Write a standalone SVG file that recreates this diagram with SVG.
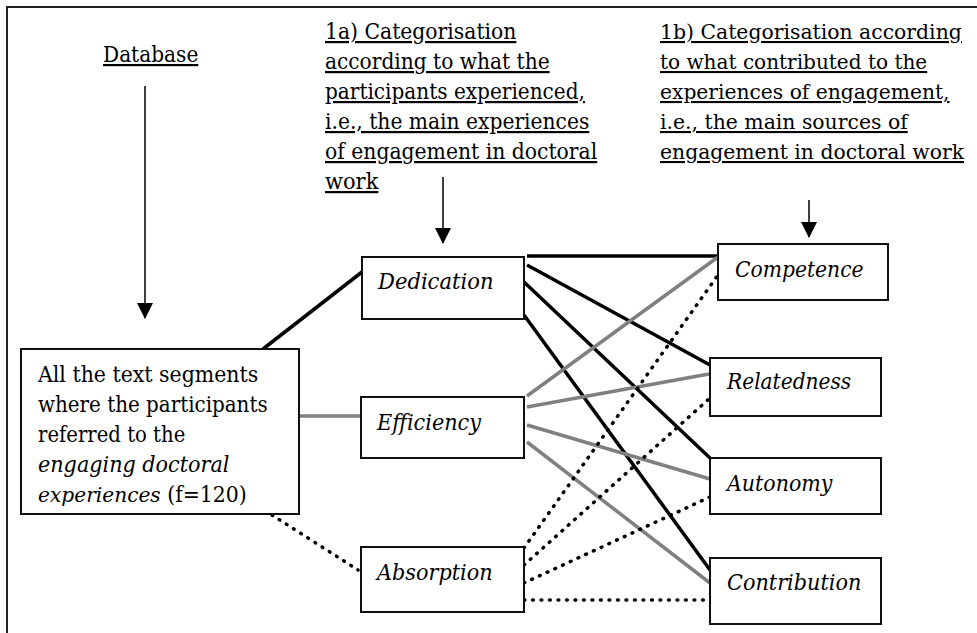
<svg xmlns="http://www.w3.org/2000/svg" width="977" height="633" viewBox="0 0 977 633">
<defs>
<marker id="ah" markerWidth="16" markerHeight="17" refX="15" refY="8" orient="auto" markerUnits="userSpaceOnUse">
<path d="M0,0 L16,8 L0,16 Z" fill="#000"/>
</marker>
<style>
text{font-family:'DejaVu Serif','Liberation Serif',serif;font-size:22px;fill:#000}
.s{font-size:21px}
.u{text-decoration:underline}
.i{font-style:italic}
.box{fill:#fff;stroke:#111;stroke-width:2}
.blk{stroke:#000;stroke-width:3.5;fill:none}
.gry{stroke:#808080;stroke-width:3.5;fill:none}
.dot{stroke:#000;stroke-width:3.5;stroke-linecap:round;stroke-dasharray:0.8 7.7;fill:none}
.arr{stroke:#000;stroke-width:1.5;fill:none}
</style>
</defs>
<rect width="977" height="633" fill="#fff"/>
<path d="M7,633 V7 H977" fill="none" stroke="#222" stroke-width="2"/>
<g id="labels">
<text class="u" x="103" y="62" textLength="95.3" lengthAdjust="spacingAndGlyphs">Database</text>
<text class="u" x="325" y="39" textLength="191.4" lengthAdjust="spacingAndGlyphs">1a) Categorisation</text>
<text class="u" x="325" y="69" textLength="224.6" lengthAdjust="spacingAndGlyphs">according to what the</text>
<text class="u" x="325" y="99" textLength="259.9" lengthAdjust="spacingAndGlyphs">participants experienced,</text>
<text class="u" x="325" y="129" textLength="264.3" lengthAdjust="spacingAndGlyphs">i.e., the main experiences</text>
<text class="u" x="325" y="159" textLength="272.2" lengthAdjust="spacingAndGlyphs">of engagement in doctoral</text>
<text class="u" x="325" y="189" textLength="53.4" lengthAdjust="spacingAndGlyphs">work</text>
<text class="u s" x="660" y="39" textLength="301.8" lengthAdjust="spacingAndGlyphs">1b) Categorisation according</text>
<text class="u s" x="660" y="69" textLength="267.2" lengthAdjust="spacingAndGlyphs">to what contributed to the</text>
<text class="u s" x="660" y="99" textLength="289.5" lengthAdjust="spacingAndGlyphs">experiences of engagement,</text>
<text class="u s" x="660" y="129" textLength="247.7" lengthAdjust="spacingAndGlyphs">i.e., the main sources of</text>
<text class="u s" x="660" y="159" textLength="304" lengthAdjust="spacingAndGlyphs">engagement in doctoral work</text>
</g>
<g id="arrows">
<line class="arr" x1="145" y1="86" x2="145" y2="318" marker-end="url(#ah)"/>
<line class="arr" x1="443" y1="177" x2="443" y2="243" marker-end="url(#ah)"/>
<line class="arr" x1="809" y1="200" x2="809" y2="237" marker-end="url(#ah)"/>
</g>
<g id="connectors">
<line class="blk" x1="263" y1="349" x2="362" y2="272"/>
<line class="gry" x1="299" y1="416" x2="361" y2="416"/>
<line class="dot" x1="272" y1="515" x2="358" y2="570"/>
<line class="blk" x1="527" y1="256" x2="718" y2="256"/>
<line class="blk" x1="527" y1="265" x2="710" y2="365"/>
<line class="blk" x1="524" y1="282" x2="710" y2="458"/>
<line class="blk" x1="524" y1="315" x2="710" y2="570"/>
<line class="gry" x1="527" y1="396" x2="718" y2="257"/>
<line class="gry" x1="527" y1="407" x2="709" y2="374"/>
<line class="gry" x1="527" y1="425" x2="710" y2="479"/>
<line class="gry" x1="527" y1="442" x2="710" y2="583"/>
<line class="dot" x1="524" y1="548" x2="718" y2="275"/>
<line class="dot" x1="524" y1="565" x2="710" y2="398"/>
<line class="dot" x1="524" y1="583" x2="710" y2="497"/>
<line class="dot" x1="524" y1="600" x2="710" y2="600"/>
</g>
<g id="source">
<rect class="box" x="21" y="349" width="278" height="165"/>
<text x="38" y="382" textLength="220.3" lengthAdjust="spacingAndGlyphs">All the text segments</text>
<text x="38" y="412" textLength="229.6" lengthAdjust="spacingAndGlyphs">where the participants</text>
<text x="38" y="442" textLength="147.3" lengthAdjust="spacingAndGlyphs">referred to the</text>
<text x="38" y="472" class="i" textLength="191.4" lengthAdjust="spacingAndGlyphs">engaging doctoral</text>
<text x="38" y="502" class="i" font-size="20" style="font-size:20px" textLength="122.7" lengthAdjust="spacingAndGlyphs">experiences</text>
<text x="167.2" y="502" textLength="79.6" lengthAdjust="spacingAndGlyphs">(f=120)</text>
</g>
<g id="dedication">
<rect class="box" x="362" y="257" width="162" height="62"/>
<text class="i" x="378" y="289" textLength="115.5" lengthAdjust="spacingAndGlyphs">Dedication</text>
</g>
<g id="efficiency">
<rect class="box" x="361" y="397" width="163" height="61"/>
<text class="i" x="377" y="430" textLength="104" lengthAdjust="spacingAndGlyphs">Efficiency</text>
</g>
<g id="absorption">
<rect class="box" x="361" y="547" width="163" height="65"/>
<text class="i" x="377" y="580" textLength="115.6" lengthAdjust="spacingAndGlyphs">Absorption</text>
</g>
<g id="competence">
<rect class="box" x="718" y="244" width="170" height="56"/>
<text class="i" x="735" y="277" textLength="128.5" lengthAdjust="spacingAndGlyphs">Competence</text>
</g>
<g id="relatedness">
<rect class="box" x="710" y="358" width="171" height="58"/>
<text class="i" x="727" y="389" textLength="124.2" lengthAdjust="spacingAndGlyphs">Relatedness</text>
</g>
<g id="autonomy">
<rect class="box" x="710" y="458" width="171" height="56"/>
<text class="i" x="727" y="491" textLength="105.4" lengthAdjust="spacingAndGlyphs">Autonomy</text>
</g>
<g id="contribution">
<rect class="box" x="710" y="558" width="171" height="66"/>
<text class="i" x="727" y="590" textLength="134.4" lengthAdjust="spacingAndGlyphs">Contribution</text>
</g>
</svg>
